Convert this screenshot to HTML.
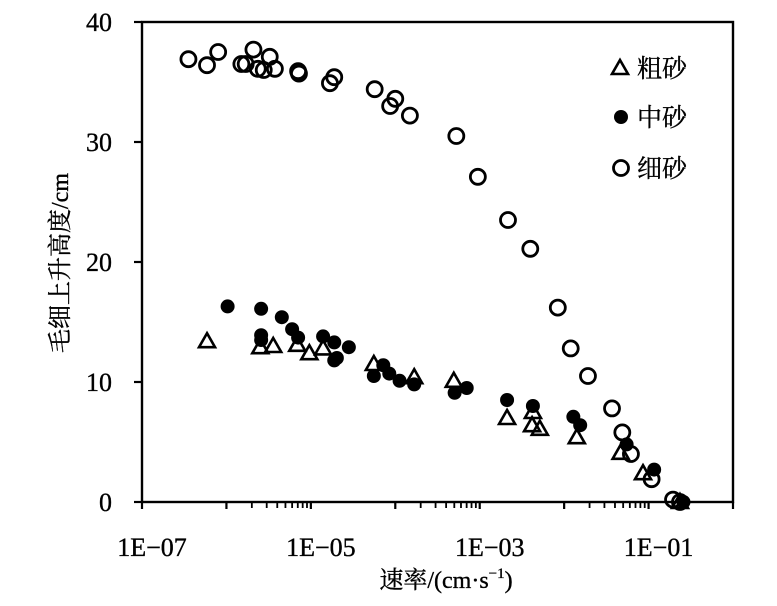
<!DOCTYPE html>
<html><head><meta charset="utf-8"><style>
html,body{margin:0;padding:0;background:#fff;}
svg{display:block;}
text{font-family:"Liberation Serif","Noto Serif CJK SC","Noto Sans CJK SC",serif;fill:#000;stroke:#000;stroke-width:0.35;}
</style></head><body>
<svg id="chart" width="777" height="606" viewBox="0 0 777 606">
<g id="axes"></g>
<g id="marks"></g>
<text x="446" y="588" text-anchor="middle" font-size="24">速率/(cm·s<tspan dy="-10" font-size="15">−1</tspan><tspan dy="10">)</tspan></text>
<text transform="translate(68,263) rotate(-90)" text-anchor="middle" font-size="24">毛细上升高度/cm</text>
<g>
<polygon points="620,60 628,74 612,74" fill="none" stroke="#000" stroke-width="2.6"/>
<text x="637" y="77" font-size="25">粗砂</text>
<circle cx="621" cy="117" r="7" fill="#000"/>
<text x="637" y="126" font-size="25">中砂</text>
<circle cx="621" cy="168" r="7.5" fill="none" stroke="#000" stroke-width="2.8"/>
<text x="637" y="177" font-size="25">细砂</text>
</g>
</svg>
<script>
const xTickLabels = ["1E−07","1E−05","1E−03","1E−01"];
const yTicks = [0,10,20,30,40];
const fineLogX = [-6.45,-6.23,-6.098,-5.823,-5.772,-5.68,-5.629,-5.558,-5.487,-5.426,-5.151,-5.141,-4.774,-4.723,-4.244,-4.061,-4.0,-3.827,-3.277,-3.022,-2.665,-2.401,-2.075,-1.922,-1.718,-1.433,-1.311,-1.209,-0.964,-0.71,-0.628];
const fineY = [36.9,36.4,37.5,36.5,36.5,37.7,36.1,36.0,37.1,36.1,35.9,35.7,34.9,35.4,34.4,33.0,33.6,32.2,30.5,27.1,23.5,21.1,16.2,12.8,10.5,7.8,5.8,4.0,1.9,0.2,0];
const mediumLogX = [-5.986,-5.589,-5.344,-5.222,-5.151,-5.589,-5.589,-4.855,-4.723,-4.55,-4.692,-4.723,-4.142,-4.071,-3.949,-4.254,-3.776,-3.297,-3.154,-2.676,-2.37,-1.891,-1.81,-1.26,-0.934,-0.587];
const mediumY = [16.3,16.1,15.4,14.4,13.7,13.9,13.5,13.8,13.3,12.9,12.0,11.8,11.4,10.7,10.1,10.5,9.8,9.1,9.5,8.5,8.0,7.1,6.4,4.8,2.7,0];
const coarseLogX = [-6.23,-5.599,-5.446,-5.161,-5.018,-4.855,-4.254,-3.776,-3.307,-2.676,-2.37,-2.38,-2.288,-1.85,-1.331,-1.066,-0.628];
const coarseY = [13.4,12.9,13.0,13.1,12.4,12.8,11.5,10.4,10.1,7.0,7.5,6.4,6.1,5.4,4.1,2.4,0];

const X0=142,X1=733,Y0=502,Y1=22,LMIN=-7,LMAX=0,VMAX=40;
function sx(l){return X0+(l-LMIN)/(LMAX-LMIN)*(X1-X0);}
function sy(v){return Y0-v/VMAX*(Y0-Y1);}
const NS="http://www.w3.org/2000/svg";
function mk(tag,attrs,parent){const e=document.createElementNS(NS,tag);for(const k in attrs)e.setAttribute(k,attrs[k]);parent.appendChild(e);return e;}
const axes=document.getElementById('axes');
const marks=document.getElementById('marks');
let e;
e=mk('rect',{x:X0,y:Y1,width:X1-X0,height:Y0-Y1,fill:'none',stroke:'#000','stroke-width':2.4},axes);


for(let d=LMIN;d<=LMAX;d++){
  e=mk('line',{x1:sx(d),x2:sx(d),y1:Y0,y2:Y0+7,stroke:'#000','stroke-width':2.2},axes);
  
  
  if(d===-6||d===-4||d===-2){
    for(let m=2;m<=9;m++){
      e=mk('line',{x1:sx(d+Math.log10(m)),x2:sx(d+Math.log10(m)),y1:Y0,y2:Y0+6,stroke:'#000','stroke-width':1.8},axes);
      
      
    }
  }
}
xTickLabels.forEach((t,i)=>{
  e=mk('text',{x:sx(-7+2*i)+10,y:556,'text-anchor':'middle','font-size':26},axes);
  e.textContent=t;
  
  
});
yTicks.forEach(v=>{
  e=mk('line',{x1:X0-8,x2:X0,y1:sy(v),y2:sy(v),stroke:'#000','stroke-width':2.2},axes);
  
  
  e=mk('text',{x:112,y:sy(v)+9,'text-anchor':'end','font-size':26},axes);
  e.textContent=String(v);
  
  
});
coarseLogX.forEach((l,i)=>{
  const cx=sx(l),cy=sy(coarseY[i]);
  e=mk('polygon',{points:`${cx},${cy-8} ${cx+8},${cy+6} ${cx-8},${cy+6}`,fill:'none',stroke:'#000','stroke-width':2.6},marks);
  
  
});
mediumLogX.forEach((l,i)=>{
  e=mk('circle',{cx:sx(l),cy:sy(mediumY[i]),r:7,fill:'#000'},marks);
  
  
});
fineLogX.forEach((l,i)=>{
  e=mk('circle',{cx:sx(l),cy:sy(fineY[i]),r:7.5,fill:'none',stroke:'#000','stroke-width':2.8},marks);
  
  
});
</script>
</body></html>
